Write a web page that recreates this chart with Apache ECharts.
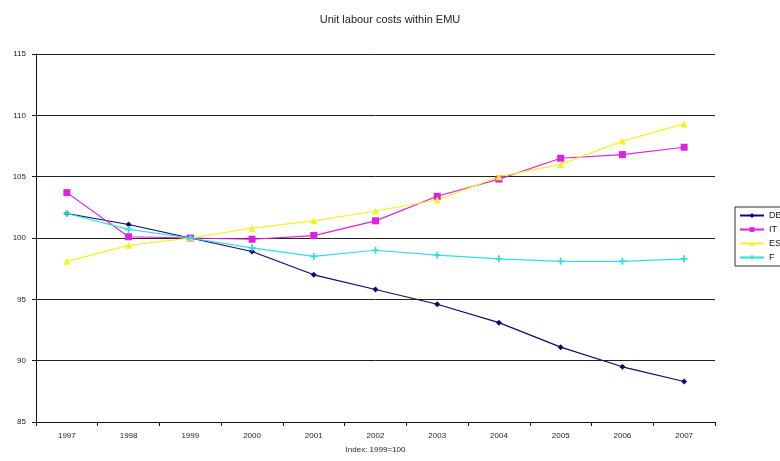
<!DOCTYPE html>
<html>
<head>
<meta charset="utf-8">
<script src="https://cdn.jsdelivr.net/npm/echarts@6/dist/echarts.min.js"></script>
<style>html,body{margin:0;padding:0;background:#fff}#c{width:780px;height:461px}</style>
</head>
<body>
<div id="c"></div>
<script>
const years = ['1997','1998','1999','2000','2001','2002','2003','2004','2005','2006','2007'];
const DE = [102.0, 101.1, 100.0, 98.9, 97.0, 95.8, 94.6, 93.1, 91.1, 89.5, 88.3];
const IT = [103.7, 100.1, 100.0, 99.9, 100.2, 101.4, 103.4, 104.8, 106.5, 106.8, 107.4];
const ES = [98.1, 99.4, 100.0, 100.8, 101.4, 102.2, 103.1, 105.0, 106.0, 107.9, 109.3];
const F  = [102.0, 100.7, 100.0, 99.2, 98.5, 99.0, 98.6, 98.3, 98.1, 98.1, 98.3];
const yTicks = [85, 90, 95, 100, 105, 110, 115];

const chart = echarts.init(document.getElementById('c'), null, {renderer:'canvas'});
const font = 'Arial, "Liberation Sans", sans-serif';
const plus = 'path://M3,0H5V3H8V5H5V8H3V5H0V3H3Z';
function s(name, data, color, symbol, size){
  return {name, type:'line', data, symbol, symbolSize:size, showSymbol:true,
    lineStyle:{color, width:1.2}, itemStyle:{color}, animation:false};
}
chart.setOption({
  animation:false,
  title:{text:'Unit labour costs within EMU', left:'center', top:9,
    textStyle:{fontFamily:font, fontSize:11, fontWeight:'normal', color:'#222'}},
  grid:{left:36, right:65, top:54, bottom:39},
  legend:{orient:'vertical', left:735, top:207, itemWidth:24, itemHeight:6, itemGap:5,
    padding:[4,6,4,4], borderColor:'#333', borderWidth:1,
    textStyle:{fontFamily:font, fontSize:9, color:'#111'},
    data:['DE','IT','ES','F']},
  xAxis:{type:'category', data:years, boundaryGap:true,
    name:'Index: 1999=100', nameLocation:'middle', nameGap:24,
    nameTextStyle:{fontFamily:font, fontSize:8, color:'#222'},
    axisLine:{lineStyle:{color:'#111', width:1}},
    axisTick:{show:true, length:4, lineStyle:{color:'#111'}},
    axisLabel:{fontFamily:font, fontSize:8, color:'#222', margin:10}},
  yAxis:{type:'value', min:85, max:115, interval:5,
    axisLine:{show:true, lineStyle:{color:'#111', width:1}},
    axisTick:{show:true, length:4, lineStyle:{color:'#111'}},
    axisLabel:{fontFamily:font, fontSize:8, color:'#222', margin:10,
      formatter: v => yTicks.includes(v) ? String(v) : ''},
    splitLine:{show:true, lineStyle:{color:'#222', width:1}}},
  series:[
    s('DE', DE, '#0a0a6e', 'diamond', 6),
    s('IT', IT, '#e020e0', 'rect', 7),
    s('ES', ES, '#f2f224', 'triangle', 7),
    s('F',  F,  '#30dede', plus, 7)
  ]
});
</script>
</body>
</html>
